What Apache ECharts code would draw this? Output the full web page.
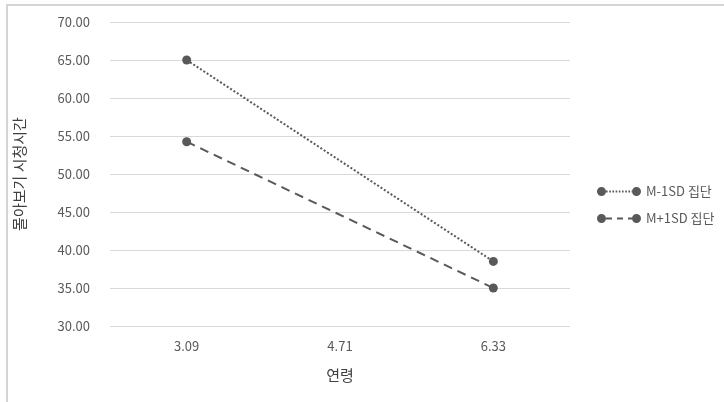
<!DOCTYPE html>
<html><head><meta charset="utf-8">
<script src="https://cdn.jsdelivr.net/npm/echarts@6/dist/echarts.min.js"></script>
<style>html,body{margin:0;padding:0;background:#fff}#c{width:724px;height:402px}</style>
</head><body><div id="c"></div>
<script>
const categories = ['3.09', '4.71', '6.33'];
const lowGroup = [65.0, null, 38.5];
const highGroup = [54.25, null, 35.0];
const seriesNames = ['M-1SD 집단', 'M+1SD 집단'];
const yTitle = '몰아보기 시청시간';
const xTitle = '연령';

const font = '"Noto Sans CJK KR", "Noto Sans", sans-serif';

// legend icons in Excel style: marker - line - marker (box 44 x 9)
function circ(cx) {
  return 'M' + (cx - 4.5) + ',4.5 A4.5,4.5 0 1,0 ' + (cx + 4.5) + ',4.5 A4.5,4.5 0 1,0 ' + (cx - 4.5) + ',4.5 Z ';
}
function segs(len, gap) {
  let p = '';
  for (let x = 9; x < 35; x += len + gap) {
    const e = Math.min(x + len, 35);
    p += 'M' + x + ',3.6 L' + e + ',3.6 L' + e + ',5.4 L' + x + ',5.4 Z ';
  }
  return p;
}
const iconDotted = 'path://' + circ(4.5) + segs(1.6, 1.6) + circ(39.5);
const iconDashed = 'path://' + circ(4.5) + segs(6, 5) + circ(39.5);

const chart = echarts.init(document.getElementById('c'), null, {renderer: 'canvas'});
chart.setOption({
  animation: false,
  backgroundColor: '#fff',
  textStyle: {fontFamily: font},
  graphic: [{
    type: 'rect', shape: {x: 7, y: 5, width: 760, height: 420},
    style: {fill: 'none', stroke: '#c8c8c8', lineWidth: 1.5}, silent: true
  }],
  grid: {left: 110, right: 154, top: 22, bottom: 76},
  legend: {
    orient: 'vertical', left: 592, top: 180, itemGap: 14,
    itemWidth: 44, itemHeight: 9,
    textStyle: {color: '#595959', fontSize: 13, fontFamily: font},
    data: [
      {name: seriesNames[0], icon: iconDotted},
      {name: seriesNames[1], icon: iconDashed}
    ]
  },
  xAxis: {
    type: 'category', data: categories, boundaryGap: true,
    name: xTitle, nameLocation: 'middle', nameGap: 42,
    nameTextStyle: {color: '#404040', fontSize: 15, fontFamily: font},
    axisLine: {show: false}, axisTick: {show: false},
    axisLabel: {color: '#595959', fontSize: 13, margin: 14}
  },
  yAxis: {
    type: 'value', min: 30, max: 70, interval: 5,
    name: yTitle, nameLocation: 'middle', nameGap: 83, nameRotate: 90,
    nameTextStyle: {color: '#404040', fontSize: 15, fontFamily: font},
    axisLine: {show: false}, axisTick: {show: false},
    axisLabel: {color: '#595959', fontSize: 13, margin: 20, formatter: v => v.toFixed(2)},
    splitLine: {lineStyle: {color: '#d9d9d9', width: 1}}
  },
  series: [{
    name: seriesNames[0], type: 'line', data: lowGroup, connectNulls: true,
    symbol: 'circle', symbolSize: 9,
    itemStyle: {color: '#595959'},
    lineStyle: {color: '#595959', width: 2, type: [2, 2]}
  }, {
    name: seriesNames[1], type: 'line', data: highGroup, connectNulls: true,
    symbol: 'circle', symbolSize: 9,
    itemStyle: {color: '#595959'},
    lineStyle: {color: '#595959', width: 2, type: [9, 6]}
  }]
});
</script></body></html>
